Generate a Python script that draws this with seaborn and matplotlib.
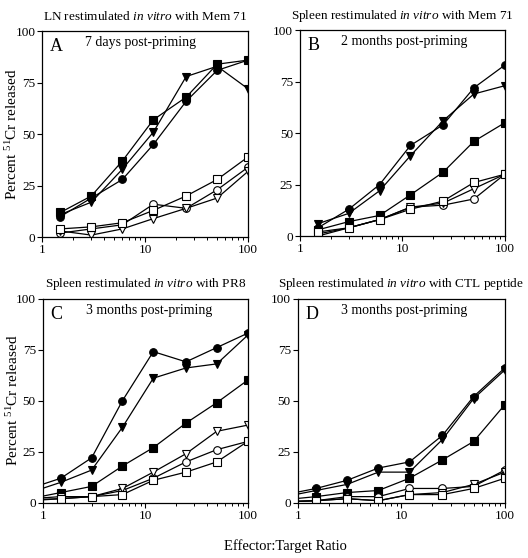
import numpy as np
import pandas as pd
import matplotlib
matplotlib.use('Agg')
import matplotlib.pyplot as plt
import matplotlib.ticker as mtick
import seaborn as sns

# effector:target ratios
ratios = [1.5, 3, 6, 12, 25, 50, 100]
# C and D also have a 0.75 point, clipped at the left edge of the axes
ratios_cd = [0.75, 1.5, 3, 6, 12, 25, 50, 100]

series = ['filled_circle', 'filled_tri', 'filled_square',
          'open_circle', 'open_tri', 'open_square']

panel_a = {
    'filled_circle': [10, 19, 28, 45, 66, 81, 86],
    'filled_tri':    [11, 17, 33, 51, 78, 83, 72],
    'filled_square': [12, 20, 37, 57, 68, 84, 86],
    'open_circle':   [2, 4, 6, 16, 14, 23, 34],
    'open_tri':      [3, 1, 4, 9, 14, 19, 32],
    'open_square':   [4, 5, 7, 13, 20, 28, 39],
}
panel_b = {
    'filled_circle': [4, 13, 25, 44, 54, 72, 83],
    'filled_tri':    [6, 11, 22, 39, 56, 69, 73],
    'filled_square': [3, 7, 10, 20, 31, 46, 55],
    'open_circle':   [0, 4, 8, 14, 15, 18, 30],
    'open_tri':      [1, 4, 8, 14, 16, 23, 30],
    'open_square':   [2, 4, 8, 13, 17, 26, 30],
}
panel_c = {
    'filled_circle': [7, 12, 22, 50, 74, 69, 76, 83],
    'filled_tri':    [5, 10, 16, 37, 61, 66, 68, 82],
    'filled_square': [2, 5, 8, 18, 27, 39, 49, 60],
    'open_circle':   [1.5, 2, 3, 6, 12, 20, 26, 30],
    'open_tri':      [2, 3, 3, 7, 15, 24, 35, 38],
    'open_square':   [1, 2, 3, 4, 11, 15, 20, 30],
}
panel_d = {
    'filled_circle': [4, 7, 11, 17, 20, 33, 52, 66],
    'filled_tri':    [3, 6, 9, 15, 15, 31, 51, 65],
    'filled_square': [1.5, 3, 5, 6, 12, 21, 30, 48],
    'open_circle':   [0.5, 1, 3, 3, 7, 7, 8, 16],
    'open_tri':      [0.5, 1, 2, 1, 4, 5, 9, 15],
    'open_square':   [0.5, 1, 2, 1, 4, 4, 7, 12],
}

titles = ['LN restimulated $\\mathit{in\\ vitro}$ with Mem 71',
          'Spleen restimulated $\\mathit{in\\ vitro}$ with Mem 71',
          'Spleen restimulated $\\mathit{in\\ vitro}$ with PR8',
          'Spleen restimulated $\\mathit{in\\ vitro}$ with CTL peptide']
subtitles = ['7 days post-priming', '2 months post-priming',
             '3 months post-priming', '3 months post-priming']
letters = ['A', 'B', 'C', 'D']

marker_style = {
    'filled_circle': ('o', 'black'),
    'filled_tri':    ('v', 'black'),
    'filled_square': ('s', 'black'),
    'open_circle':   ('o', 'white'),
    'open_tri':      ('v', 'white'),
    'open_square':   ('s', 'white'),
}

sns.set_theme(style='ticks')
plt.rcParams['font.family'] = ['Liberation Serif', 'DejaVu Serif']
plt.rcParams['mathtext.fontset'] = 'custom'
plt.rcParams['mathtext.rm'] = 'Liberation Serif'
plt.rcParams['mathtext.it'] = 'Liberation Serif:italic'

fig = plt.figure(figsize=(5.28, 5.58), dpi=100)
boxes = [[0.080, 0.575, 0.390, 0.369],
         [0.568, 0.577, 0.388, 0.369],
         [0.081, 0.099, 0.388, 0.366],
         [0.564, 0.099, 0.392, 0.366]]
sub_x = [0.475, 0.51, 0.52, 0.515]

panels = [(ratios, panel_a), (ratios, panel_b), (ratios_cd, panel_c), (ratios_cd, panel_d)]

for i, (xs, data) in enumerate(panels):
    ax = fig.add_axes(boxes[i])
    start = 1 if xs[0] < 1 else 0
    for name in series:
        m, fc = marker_style[name]
        df = pd.DataFrame({'ratio': xs, 'lysis': data[name]})
        sns.lineplot(data=df, x='ratio', y='lysis', ax=ax, color='black',
                     linewidth=0.9, marker=m, markersize=6 if m != 'o' else 5.5,
                     markerfacecolor=fc, markeredgecolor='black', markeredgewidth=0.8,
                     markevery=slice(start, None), estimator=None, sort=False)
    ax.set_xscale('log')
    ax.set_xlim(1, 100)
    ax.set_ylim(0, 100)
    ax.set_xticks([1, 10, 100])
    ax.xaxis.set_major_formatter(mtick.FuncFormatter(lambda v, p: '%g' % v))
    ax.xaxis.set_minor_locator(mtick.LogLocator(base=10, subs=np.arange(2, 10)))
    ax.xaxis.set_minor_formatter(mtick.NullFormatter())
    ax.set_yticks([0, 25, 50, 75, 100])
    ax.tick_params(which='major', direction='out', length=3.5, width=0.8,
                   labelsize=9.5, color='black', labelcolor='black', pad=1.5)
    ax.tick_params(which='minor', direction='out', length=2.2, width=0.7, color='black')
    for sp in ax.spines.values():
        sp.set_visible(True)
        sp.set_color('black')
        sp.set_linewidth(0.9)
    ax.set_xlabel('')
    if i % 2 == 0:
        ax.set_ylabel('Percent $^{51}$Cr released', fontsize=11, color='black')
        ax.yaxis.set_label_coords(-0.108, 0.5)
    else:
        ax.set_ylabel('')
    ax.set_title(titles[i], fontsize=9.5, color='black', pad=8)
    ax.text(0.035, 0.965, letters[i], transform=ax.transAxes, fontsize=13,
            va='top', ha='left', color='black')
    ax.text(sub_x[i], 0.975, subtitles[i], transform=ax.transAxes, fontsize=10,
            va='top', ha='center', color='black')

fig.text(0.54, 0.022, 'Effector:Target Ratio', fontsize=10.5, ha='center',
         va='center', color='black')

fig.savefig('out.png', dpi=100)
